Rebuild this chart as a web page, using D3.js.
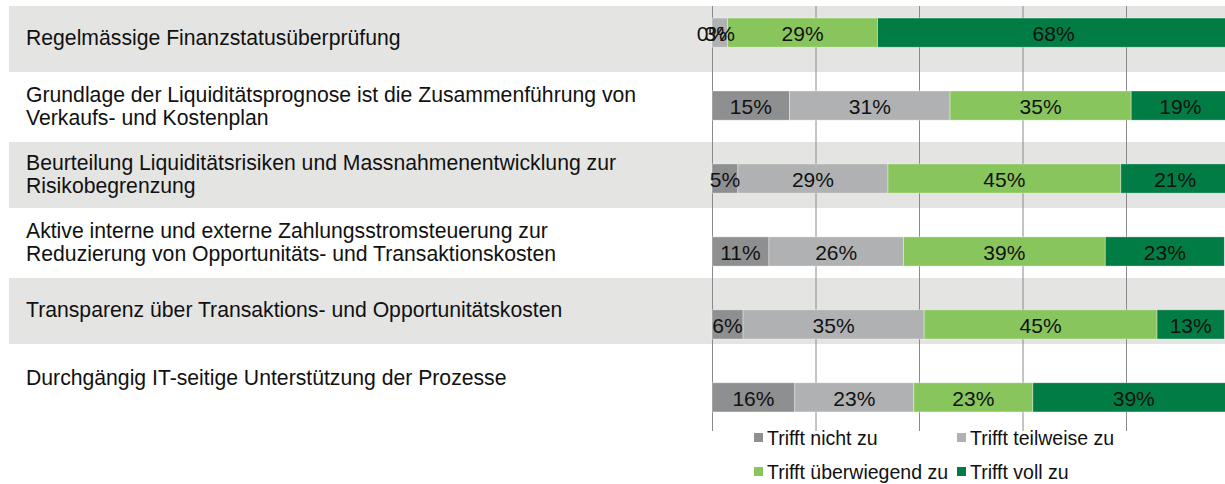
<!DOCTYPE html>
<html>
<head>
<meta charset="utf-8">
<script src="https://cdn.jsdelivr.net/npm/d3@7/dist/d3.min.js"></script>
<style>
  html, body { margin: 0; padding: 0; background: #ffffff; }
  svg { display: block; font-family: "Liberation Sans", Arial, Helvetica, sans-serif; }
</style>
</head>
<body>
<svg id="chart" width="1225" height="484"></svg>
<script>
// Survey statements (line breaks mark where each label wraps)
const categories = [
  "Regelmässige Finanzstatusüberprüfung",
  "Grundlage der Liquiditätsprognose ist die Zusammenführung von\nVerkaufs- und Kostenplan",
  "Beurteilung Liquiditätsrisiken und Massnahmenentwicklung zur\nRisikobegrenzung",
  "Aktive interne und externe Zahlungsstromsteuerung zur\nReduzierung von Opportunitäts- und Transaktionskosten",
  "Transparenz über Transaktions- und Opportunitätskosten",
  "Durchgängig IT-seitige Unterstützung der Prozesse"
];

// Share of answers per statement, in percent
const nichtZu      = [0, 15, 5, 11, 6, 16];
const teilweise    = [3, 31, 29, 26, 35, 23];
const ueberwiegend = [29, 35, 45, 39, 45, 23];
const vollZu       = [68, 19, 21, 23, 13, 39];

const seriesNames  = ["Trifft nicht zu", "Trifft teilweise zu", "Trifft überwiegend zu", "Trifft voll zu"];
const seriesColors = ["#8e8f91", "#b0b1b3", "#89c55d", "#007c44"];
const xTicks = [0, 20, 40, 60, 80, 100];

const seriesKeys = ["nichtZu", "teilweise", "ueberwiegend", "vollZu"];
const rows = categories.map((c, i) => ({
  category: c,
  nichtZu: nichtZu[i],
  teilweise: teilweise[i],
  ueberwiegend: ueberwiegend[i],
  vollZu: vollZu[i]
}));

const svg = d3.select("#chart");

// Table rows carrying the statement labels
const rowScale = d3.scaleBand().domain(categories).range([6, 414]);
const tableLeft = 9;

svg.append("g").selectAll("rect")
  .data(categories.filter((c, i) => i % 2 === 0))
  .join("rect")
  .attr("x", tableLeft)
  .attr("y", d => rowScale(d))
  .attr("width", 1225 - tableLeft)
  .attr("height", rowScale.bandwidth() - 2)
  .attr("fill", "#e4e4e3");

const lineHeight = 23.5;
svg.append("g").selectAll("text")
  .data(categories)
  .join("text")
  .attr("font-size", 21.2)
  .attr("fill", "#111")
  .each(function (d) {
    const lines = d.split("\n");
    const cy = rowScale(d) + rowScale.bandwidth() / 2 - 2;
    const first = cy - (lines.length - 1) * lineHeight / 2;
    d3.select(this).selectAll("tspan")
      .data(lines)
      .join("tspan")
      .attr("x", 26)
      .attr("y", (l, j) => first + j * lineHeight)
      .attr("dy", "0.35em")
      .text(l => l);
  });

// Bar chart area
const x = d3.scaleLinear().domain([0, 100]).range([712, 1229.5]);
const plotTop = 6, plotBottom = 431;
const y = d3.scaleBand().domain(categories).range([6, 424]).paddingInner(0.6).paddingOuter(0.165);

// Vertical gridlines
svg.append("g")
  .attr("transform", `translate(0,${plotBottom})`)
  .call(d3.axisBottom(x).tickValues(xTicks).tickSize(-(plotBottom - plotTop)).tickFormat(""))
  .call(g => g.select(".domain").remove())
  .call(g => g.selectAll(".tick line").attr("stroke", "#8a8a8a").attr("stroke-width", 1));

const stacked = d3.stack().keys(seriesKeys)(rows);

const layers = svg.append("g").selectAll("g")
  .data(stacked)
  .join("g")
  .attr("fill", (d, i) => seriesColors[i]);

layers.selectAll("rect")
  .data(d => d)
  .join("rect")
  .attr("x", d => x(d[0]))
  .attr("y", d => y(d.data.category))
  .attr("width", d => x(d[1]) - x(d[0]))
  .attr("height", y.bandwidth())
  .attr("stroke", "rgba(255,255,255,0.45)")
  .attr("stroke-width", 0.8);

// Percent labels centred in each segment
const labels = svg.append("g")
  .attr("font-size", 21)
  .attr("fill", "#111")
  .attr("text-anchor", "middle");

stacked.forEach(layer => {
  labels.selectAll(null)
    .data(layer)
    .join("text")
    .attr("x", d => x((d[0] + d[1]) / 2))
    .attr("y", d => y(d.data.category) + y.bandwidth() / 2 + 1)
    .attr("dy", "0.35em")
    .text(d => `${d.data[layer.key]}%`);
});

// Legend, two columns by two rows
const legendPos = [[754, 438], [957, 438], [754, 472], [957, 472]];
const legend = svg.append("g").selectAll("g")
  .data(seriesNames)
  .join("g")
  .attr("transform", (d, i) => `translate(${legendPos[i][0]},${legendPos[i][1]})`);

legend.append("rect")
  .attr("x", 0).attr("y", -5)
  .attr("width", 9).attr("height", 9)
  .attr("fill", (d, i) => seriesColors[i]);

legend.append("text")
  .attr("x", 13)
  .attr("dy", "0.35em")
  .attr("font-size", 19.5)
  .attr("fill", "#111")
  .text(d => d);
</script>
</body>
</html>
